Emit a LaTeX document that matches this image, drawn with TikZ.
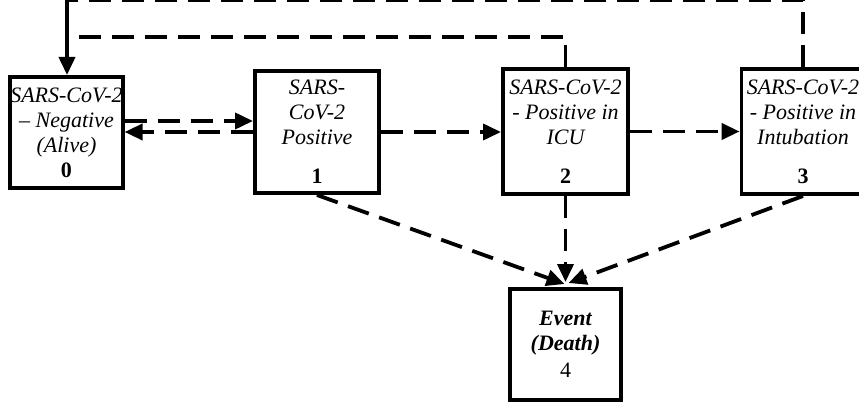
\documentclass[tikz,border=0pt]{standalone}
\usepackage{fontspec}
\setmainfont{Liberation Serif}
\usetikzlibrary{arrows.meta}
\begin{document}
\begin{tikzpicture}[x=1pt,y=-1pt,
  box/.style={draw,line width=3.8pt,inner sep=0pt,align=center,
    font=\fontsize{22}{25}\selectfont\itshape},
  dl/.style={line width=3.8pt,dash pattern=on 22pt off 11pt},
  sl/.style={line width=3.8pt},
  arr/.style={-{Triangle[length=18pt,width=16pt]}}]
\clip (0,0) rectangle (859,409);
\node[box,minimum width=111.2pt,minimum height=111.2pt] (b0) at (66.5,132.5)
  {SARS-CoV-2\\– Negative\\(Alive)\\\upshape\bfseries 0};
\node[box,minimum width=124.2pt,minimum height=122.2pt] (b1) at (317,132)
  {SARS-\\CoV-2\\Positive\\[14pt]\upshape\bfseries 1};
\node[box,minimum width=125.2pt,minimum height=125.2pt] (b2) at (565.5,131.5)
  {SARS-CoV-2\\- Positive in\\ICU\\[14pt]\upshape\bfseries 2};
\node[box,minimum width=123pt,minimum height=125.2pt] (b3) at (803,131.5)
  {SARS-CoV-2\\- Positive in\\Intubation\\[14pt]\upshape\bfseries 3};
\node[box,minimum width=111.2pt,minimum height=111.2pt] (b4) at (565.5,344.5)
  {\bfseries Event\\\bfseries (Death)\\[2pt]\upshape 4};
\coordinate (tl) at (67,0.5);
\coordinate (ml) at (67,37);
\draw[dl] (b3.north) |- (tl);
\draw[sl,arr] (tl) -- (tl |- b0.north);
\draw[dl] (b2.north) |- (ml);
\draw[dl,arr] ([yshift=11.5pt]b0.east) -- ([yshift=11.5pt]b0.east -| b1.west);
\draw[dl,arr] (b1.west) -- (b1.west -| b0.east);
\draw[dl,arr] (b1.east) -- (b1.east -| b2.west);
\draw[dl,arr] (b2.east) -- (b2.east -| b3.west);
\draw[dl,arr] (b1.south) -- ([xshift=-1pt,yshift=3pt]b4.north);
\draw[dl,arr] (b2.south) -- ([yshift=5pt]b4.north);
\draw[dl,arr] (b3.south) -- ([xshift=3pt,yshift=4pt]b4.north);
\end{tikzpicture}
\end{document}
